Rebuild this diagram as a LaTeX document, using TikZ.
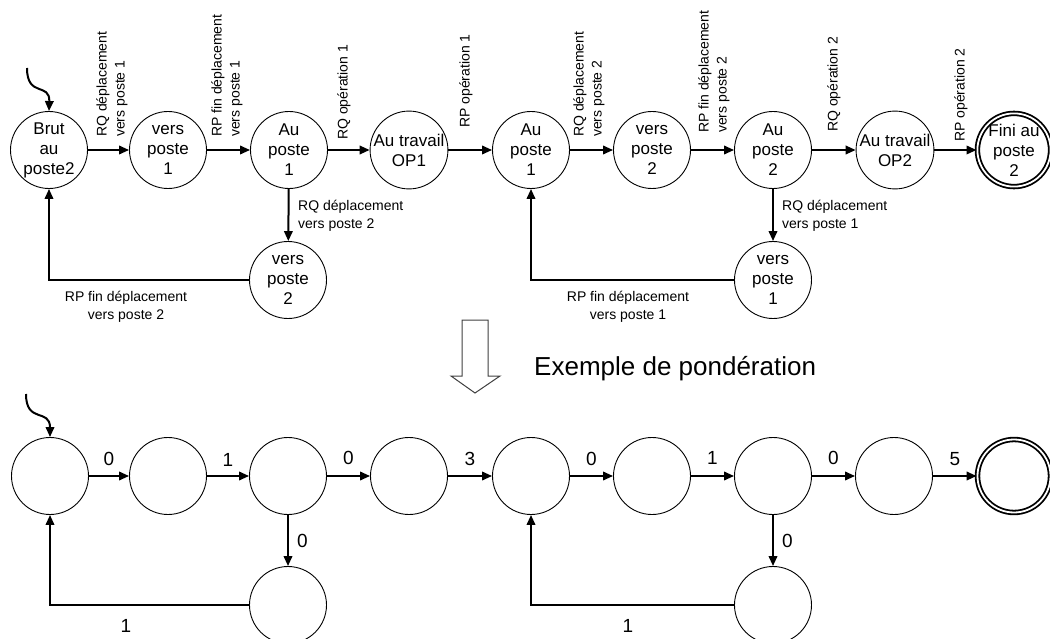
\documentclass[tikz,border=0pt]{standalone}
\usepackage{fontspec}
\setmainfont{Liberation Sans}
\usetikzlibrary{arrows.meta}
\begin{document}
\begin{tikzpicture}[x=1pt,y=-1pt,
  state/.style={circle,draw,line width=0.9pt,minimum size=77pt,inner sep=0pt,align=center,font=\fontsize{17}{20}\selectfont},
  final/.style={state,double,double distance=1.8pt,line width=1.8pt,minimum size=73pt},
  arr/.style={line width=2pt,-{Triangle[length=10pt,width=8.5pt]}},
  vlab/.style={rotate=90,anchor=west,align=left,inner sep=0pt,font=\fontsize{14}{18}\selectfont},
  hlab/.style={align=left,inner sep=0pt,font=\fontsize{14}{18}\selectfont},
  clab/.style={align=center,inner sep=0pt,font=\fontsize{14}{18}\selectfont},
  wlab/.style={inner sep=0pt,font=\fontsize{19}{22}\selectfont},
  bigarrow/.style={draw=black!75,line width=1pt,fill=white}]
\useasboundingbox (0,0) rectangle (1050,639);

% ---------- top automaton ----------
\node[state] (a1) at (49,150) {Brut\\au\\poste2};
\node[state] (a2) at (168,150) {vers\\poste\\1};
\node[state] (a3) at (289,150) {Au\\poste\\1};
\node[state] (a4) at (409,150) {Au travail\\OP1};
\node[state] (a5) at (531,150) {Au\\poste\\1};
\node[state] (a6) at (652,150) {vers\\poste\\2};
\node[state] (a7) at (773,150) {Au\\poste\\2};
\node[state] (a8) at (895,150) {Au travail\\OP2};
\node[final] (a9) at (1014,150) {Fini au\\poste\\2};
\node[state] (b3) at (288,280) {vers\\poste\\2};
\node[state] (b7) at (773,280) {vers\\poste\\1};

\coordinate (s1) at (27,68);
\draw[arr] (s1) .. controls (27,98) and (50,82) .. (a1.north);

\draw[arr] (a1) -- (a2);
\draw[arr] (a2) -- (a3);
\draw[arr] (a3) -- (a4);
\draw[arr] (a4) -- (a5);
\draw[arr] (a5) -- (a6);
\draw[arr] (a6) -- (a7);
\draw[arr] (a7) -- (a8);
\draw[arr] (a8) -- (a9);
\draw[arr] (a3) -- (b3);
\draw[arr] (a7) -- (b7);
\draw[arr] (b3.west) -| (a1.south);
\draw[arr] (b7.west) -| (a5.south);

\node[vlab] (l1) at (112,137) {RQ déplacement\\vers poste 1};
\node[vlab] (l2) at (227,137) {RP fin déplacement\\vers poste 1};
\node[vlab] (l3) at (344,140) {RQ opération 1};
\node[vlab] (l4) at (466,128) {RP opération 1};
\node[vlab] (l5) at (589,137) {RQ déplacement\\vers poste 2};
\node[vlab] (l6) at (714,133) {RP fin déplacement\\vers poste 2};
\node[vlab] (l7) at (834,132) {RQ opération 2};
\node[vlab] (l8) at (961,142) {RP opération 2};
\node[hlab,anchor=west] (l9) at (298,216) {RQ déplacement\\vers poste 2};
\node[hlab,anchor=west] (l10) at (782,216) {RQ déplacement\\vers poste 1};
\node[clab] (l11) at (126,307) {RP fin déplacement\\vers poste 2};
\node[clab] (l12) at (628,307) {RP fin déplacement\\vers poste 1};

% ---------- transition arrow and title ----------
\draw[bigarrow] (462,320) -- (488,320) -- (488,376) -- (500,376) -- (475,393) -- (451,376) -- (462,376) -- cycle;
\node[inner sep=0pt,anchor=west,font=\fontsize{26}{30}\selectfont] (title) at (534,369) {Exemple de pondération};

% ---------- weighted automaton ----------
\node[state] (c1) at (50,476) {};
\node[state] (c2) at (168,476) {};
\node[state] (c3) at (288,476) {};
\node[state] (c4) at (409,476) {};
\node[state] (c5) at (531,476) {};
\node[state] (c6) at (652,476) {};
\node[state] (c7) at (773,476) {};
\node[state] (c8) at (894,476) {};
\node[final] (c9) at (1014,476) {};
\node[state] (d3) at (288,605) {};
\node[state] (d7) at (773,605) {};

\coordinate (s2) at (26,394);
\draw[arr] (s2) .. controls (26,424) and (50,408) .. (c1.north);

\draw[arr] (c1) -- node[wlab,above=9pt] {0} (c2);
\draw[arr] (c2) -- node[wlab,above=9pt] {1} (c3);
\draw[arr] (c3) -- node[wlab,above=10pt] {0} (c4);
\draw[arr] (c4) -- node[wlab,above=9pt] {3} (c5);
\draw[arr] (c5) -- node[wlab,above=9pt] {0} (c6);
\draw[arr] (c6) -- node[wlab,above=11pt] {1} (c7);
\draw[arr] (c7) -- node[wlab,above=10pt] {0} (c8);
\draw[arr] (c8) -- node[wlab,above=9pt] {5} (c9);
\draw[arr] (c3) -- node[wlab,right=8pt] {0} (d3);
\draw[arr] (c7) -- node[wlab,right=8pt] {0} (d7);
\draw[arr] (d3.west) -| (c1.south);
\draw[arr] (d7.west) -| (c5.south);
\node[wlab] (w1) at (126,626) {1};
\node[wlab] (w2) at (628,626) {1};
\end{tikzpicture}
\end{document}
